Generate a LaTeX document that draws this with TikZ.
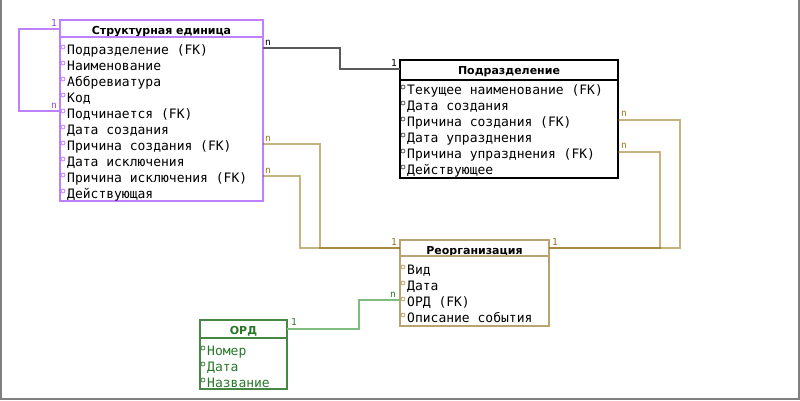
\documentclass[tikz,border=0pt]{standalone}
\usepackage{fontspec}
\setmainfont{DejaVu Sans}
\newfontfamily\attrfont{DejaVu Sans Mono}
\usetikzlibrary{positioning}

\definecolor{erpurple}{RGB}{190,128,255}
\definecolor{erpurpletext}{RGB}{150,70,230}
\definecolor{ergold}{RGB}{137,101,0}
\definecolor{ergoldbox}{RGB}{185,163,112}
\definecolor{ergoldtext}{RGB}{150,118,30}
\definecolor{ergreen}{RGB}{128,188,128}
\definecolor{ergreenbox}{RGB}{70,135,70}
\definecolor{ergreentext}{RGB}{40,120,40}
\definecolor{erblack}{RGB}{90,90,90}
\definecolor{erframe}{RGB}{128,128,128}

\tikzset{
  entity/.style={draw, line width=1.3pt, anchor=north west, inner sep=0pt, outer sep=0pt},
  title/.style={font=\fontsize{11}{13}\selectfont\bfseries, inner sep=0pt, anchor=base},
  attr/.style={font=\attrfont\fontsize{13}{16}\selectfont, inner sep=0pt, anchor=base west},
  card/.style={font=\attrfont\fontsize{9.5}{10}\selectfont, inner sep=0pt},
  link/.style={line width=1.3pt},
  dot/.style={line width=0.8pt},
}

\begin{document}
\begin{tikzpicture}[x=1pt,y=-1pt]
\useasboundingbox (0,0) rectangle (800,400);
\draw[erframe, line width=2pt] (1,0) -- (1,399) -- (799,399) -- (799,0);

% Структурная единица
\node[entity, draw=erpurple, minimum width=203pt, minimum height=181pt] (su) at (60,20) {};
\node[title] (suT) at ([yshift=-14pt]su.north) {Структурная единица};
\draw[erpurple, line width=1.3pt] (su.west |- 0,37) -- (su.east |- 0,37);
\node[attr] (su1) at ([xshift=7pt,yshift=-34pt]su.north west) {Подразделение (FK)};
\node[attr] (su2) at ([yshift=-16pt]su1.base west) {Наименование};
\node[attr] (su3) at ([yshift=-16pt]su2.base west) {Аббревиатура};
\node[attr] (su4) at ([yshift=-16pt]su3.base west) {Код};
\node[attr] (su5) at ([yshift=-16pt]su4.base west) {Подчинается (FK)};
\node[attr] (su6) at ([yshift=-16pt]su5.base west) {Дата создания};
\node[attr] (su7) at ([yshift=-16pt]su6.base west) {Причина создания (FK)};
\node[attr] (su8) at ([yshift=-16pt]su7.base west) {Дата исключения};
\node[attr] (su9) at ([yshift=-16pt]su8.base west) {Причина исключения (FK)};
\node[attr] (su10) at ([yshift=-16pt]su9.base west) {Действующая};
\foreach \n in {1,...,10}
  \draw[dot, erpurple] ([xshift=-4pt,yshift=7pt]su\n.base west) circle[radius=2pt];

% Подразделение
\node[entity, draw=black, minimum width=218pt, minimum height=118pt] (pd) at (400,60) {};
\node[title] (pdT) at ([yshift=-14pt]pd.north) {Подразделение};
\draw[black, line width=1.3pt] (pd.west |- 0,80) -- (pd.east |- 0,80);
\node[attr] (pd1) at ([xshift=7pt,yshift=-34pt]pd.north west) {Текущее наименование (FK)};
\node[attr] (pd2) at ([yshift=-16pt]pd1.base west) {Дата создания};
\node[attr] (pd3) at ([yshift=-16pt]pd2.base west) {Причина создания (FK)};
\node[attr] (pd4) at ([yshift=-16pt]pd3.base west) {Дата упразднения};
\node[attr] (pd5) at ([yshift=-16pt]pd4.base west) {Причина упразднения (FK)};
\node[attr] (pd6) at ([yshift=-16pt]pd5.base west) {Действующее};
\foreach \n in {1,...,6}
  \draw[dot, erblack] ([xshift=-4pt,yshift=7pt]pd\n.base west) circle[radius=2pt];

% Реорганизация
\node[entity, draw=ergoldbox, minimum width=149pt, minimum height=86pt] (ro) at (400,240) {};
\node[title] (roT) at ([yshift=-14pt]ro.north) {Реорганизация};
\draw[ergoldbox, line width=1.3pt] (ro.west |- 0,256) -- (ro.east |- 0,256);
\node[attr] (ro1) at ([xshift=7pt,yshift=-34pt]ro.north west) {Вид};
\node[attr] (ro2) at ([yshift=-16pt]ro1.base west) {Дата};
\node[attr] (ro3) at ([yshift=-16pt]ro2.base west) {ОРД (FK)};
\node[attr] (ro4) at ([yshift=-16pt]ro3.base west) {Описание события};
\foreach \n in {1,...,4}
  \draw[dot, ergoldbox] ([xshift=-4pt,yshift=7pt]ro\n.base west) circle[radius=2pt];

% ОРД
\node[entity, draw=ergreenbox, minimum width=87pt, minimum height=69pt] (ord) at (200,320) {};
\node[title, text=ergreentext] (ordT) at ([yshift=-14.5pt]ord.north) {ОРД};
\draw[ergreenbox, line width=1.3pt] (ord.west |- 0,338) -- (ord.east |- 0,338);
\node[attr, text=ergreentext] (ord1) at ([xshift=7pt,yshift=-35pt]ord.north west) {Номер};
\node[attr, text=ergreentext] (ord2) at ([yshift=-16pt]ord1.base west) {Дата};
\node[attr, text=ergreentext] (ord3) at ([yshift=-16pt]ord2.base west) {Название};
\foreach \n in {1,...,3}
  \draw[dot, ergreenbox] ([xshift=-4pt,yshift=7pt]ord\n.base west) circle[radius=2pt];

% связи
\draw[link, erpurple] (su.west |- 0,29) -- (19,29) |- (su.west |- 0,111);
\node[card, text=erpurpletext, anchor=south east] at ([xshift=-3pt,yshift=2.5pt]su.west |- 0,29) {1};
\node[card, text=erpurpletext, anchor=south east] at ([xshift=-3pt,yshift=2.5pt]su.west |- 0,111) {n};

\draw[link, erblack] (su.east |- 0,48) -| (340,58) |- (pd.west |- 0,69);
\node[card, anchor=south west] at ([xshift=2pt,yshift=2pt]su.east |- 0,48) {n};
\node[card, anchor=south east] at ([xshift=-3pt,yshift=2.5pt]pd.west |- 0,69) {1};

\draw[link, ergold, draw opacity=0.5] (su.east |- 0,144) -| (320,200) |- (ro.west |- 0,248);
\draw[link, ergold, draw opacity=0.5] (su.east |- 0,176) -| (300,200) |- (ro.west |- 0,248);
\node[card, text=ergoldtext, anchor=south west] at ([xshift=2pt,yshift=2.5pt]su.east |- 0,144) {n};
\node[card, text=ergoldtext, anchor=south west] at ([xshift=2pt,yshift=2.5pt]su.east |- 0,176) {n};
\node[card, text=ergoldtext, anchor=south east] at ([xshift=-3pt,yshift=2.5pt]ro.west |- 0,248) {1};

\draw[link, ergold, draw opacity=0.5] (pd.east |- 0,120) -| (680,200) |- (ro.east |- 0,248);
\draw[link, ergold, draw opacity=0.5] (pd.east |- 0,152) -| (660,200) |- (ro.east |- 0,248);
\node[card, text=ergoldtext, anchor=south west] at ([xshift=3pt,yshift=3pt]pd.east |- 0,120) {n};
\node[card, text=ergoldtext, anchor=south west] at ([xshift=3pt,yshift=3pt]pd.east |- 0,152) {n};
\node[card, text=ergoldtext, anchor=south west] at ([xshift=3pt,yshift=2.5pt]ro.east |- 0,248) {1};

\draw[link, ergreen] (ord.east |- 0,329) -| (359,315) |- (ro.west |- 0,300);
\node[card, text=ergreentext, anchor=south west] at ([xshift=4pt,yshift=3pt]ord.east |- 0,329) {1};
\node[card, text=ergreentext, anchor=south east] at ([xshift=-4pt,yshift=2.5pt]ro.west |- 0,300) {n};
\end{tikzpicture}
\end{document}
